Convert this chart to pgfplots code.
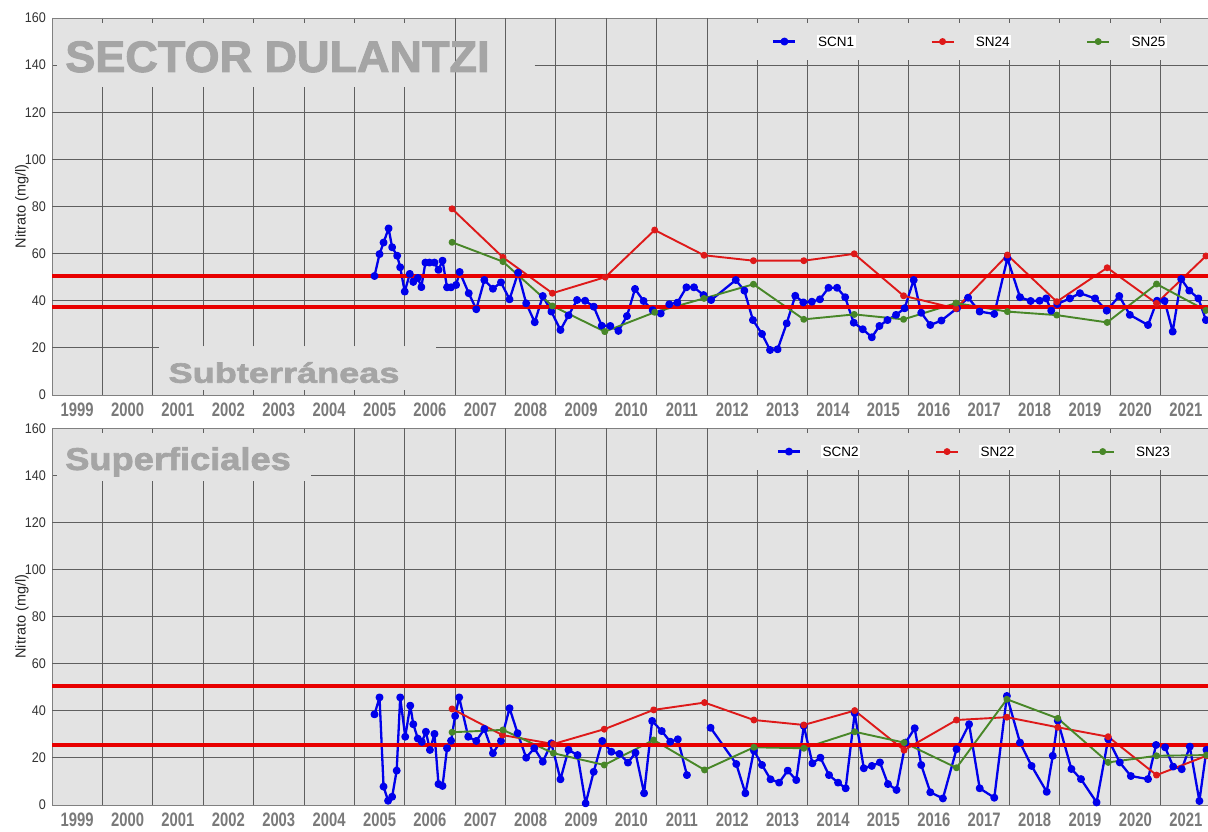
\documentclass[border=0pt]{standalone}
\usepackage{fontspec}
\setmainfont{Liberation Sans}
\newfontfamily\yearfont{Liberation Sans}[FakeStretch=0.76]
\newfontfamily\tickfont{Liberation Sans}[FakeStretch=0.9]
\newfontfamily\titlefont{Liberation Sans}[FakeStretch=1.023, BoldFeatures={FakeBold=2.2}]
\newfontfamily\subfont{Liberation Sans}[FakeStretch=1.29, BoldFeatures={FakeBold=2.2}]
\newfontfamily\supfont{Liberation Sans}[FakeStretch=1.15, BoldFeatures={FakeBold=2.2}]
\usepackage{pgfplots}
\pgfplotsset{compat=1.18}
\definecolor{bg}{RGB}{227,227,227}
\definecolor{gridc}{RGB}{95,95,95}
\definecolor{sblue}{RGB}{0,0,235}
\definecolor{sred}{RGB}{222,25,25}
\definecolor{sgreen}{RGB}{72,135,40}
\definecolor{refred}{RGB}{232,0,0}
\definecolor{titlegray}{RGB}{165,165,165}
\definecolor{yeargray}{RGB}{122,122,122}
\pgfplotsset{
  chart/.style={
    scale only axis, width=1159pt,
    xmin=1999, xmax=2022, ymin=0, ymax=160,
    axis background/.style={fill=bg},
    xtick={1999,2000,...,2022},
    x tick label as interval,
    xticklabels={1999,2000,2001,2002,2003,2004,2005,2006,2007,2008,2009,2010,2011,2012,2013,2014,2015,2016,2017,2018,2019,2020,2021},
    ytick={0,20,...,160},
    tick align=inside, major tick length=5pt,
    tick style={gridc, line width=0.9pt},
    axis line style={gray},
    xticklabel style={font=\yearfont\bfseries\fontsize{19.5pt}{19.5pt}\selectfont, text=yeargray, anchor=north, inner sep=0pt, yshift=-7.7pt},
    yticklabel style={font=\tickfont\fontsize{14pt}{14pt}\selectfont, text=black!80, anchor=east, inner sep=0pt, xshift=-6pt},
    /pgf/number format/assume math mode=true,
    every axis y label/.style={at={(axis description cs:-0.0259,0.5)}, rotate=90, anchor=center, font=\fontsize{14.5pt}{14.5pt}\selectfont, text=black!85},
    ylabel={Nitrato (mg/l)},
    legend columns=3,
    legend style={draw=none, fill=none, inner sep=0pt, font=\fontsize{13.5pt}{13.5pt}\selectfont, nodes={inner sep=0pt},
      /tikz/every odd column/.append style={column sep=20pt},
      /tikz/every even column/.append style={column sep=75pt}},
    legend image code/.code={\draw[mark repeat=2, mark phase=2, #1] plot coordinates {(0pt,0pt) (11pt,0pt) (22pt,0pt)};},
    blueS/.style={sblue, line width=2.3pt, mark=*, mark size=2.8pt, line join=round},
    redS/.style={sred, line width=1.9pt, mark=*, mark size=2.5pt, line join=round},
    greenS/.style={sgreen, line width=1.9pt, mark=*, mark size=2.5pt, line join=round},
    refS/.style={refred, line width=4.6pt, forget plot},
  }
}
\tikzset{gl/.style={gridc, line width=0.9pt}}
\setlength{\fboxsep}{1.5pt}
\begin{document}
\begin{tikzpicture}
% ---------------- top chart ----------------
\begin{axis}[chart, height=377pt, at={(52pt,436pt)}, anchor=south west,
  legend style={at={(axis cs:2013.29,150)}, anchor=west}]
% grid (interrupted behind the text boxes)
\pgfplotsinvokeforeach{2000,2001}{\draw[gl] (axis cs:#1,0) -- (axis cs:#1,130.7);}
\pgfplotsinvokeforeach{2002,2003,2004,2005,2006}{\draw[gl] (axis cs:#1,20.6) -- (axis cs:#1,130.7);}
\pgfplotsinvokeforeach{2007,2008,2009,2010,2011,2012}{\draw[gl] (axis cs:#1,0) -- (axis cs:#1,160);}
\pgfplotsinvokeforeach{2013,2014,2015,2016,2017,2018,2019,2020,2021}{\draw[gl] (axis cs:#1,0) -- (axis cs:#1,142.2);}
\draw[gl] (axis cs:1999,20) -- (axis cs:2001.13,20) (axis cs:2006.63,20) -- (axis cs:2022,20);
\pgfplotsinvokeforeach{40,60,80,100,120}{\draw[gl] (axis cs:1999,#1) -- (axis cs:2022,#1);}
\draw[gl] (axis cs:2008.58,140) -- (axis cs:2022,140);
\node[anchor=base west, inner sep=0pt, text=titlegray, font=\titlefont\bfseries\fontsize{44pt}{44pt}\selectfont] at (axis cs:1999.26,137.1) {SECTOR DULANTZI};
\node[anchor=base west, inner sep=0pt, text=titlegray, font=\subfont\bfseries\fontsize{28pt}{28pt}\selectfont] at (axis cs:2001.31,5.2) {Subterráneas};
\addplot[blueS] coordinates {
(2005.40,50.5) (2005.50,59.8) (2005.58,64.7) (2005.68,70.7) (2005.75,62.7) (2005.85,59.1) (2005.91,54.2)
(2006.00,43.9) (2006.10,51.4) (2006.17,48.0) (2006.26,49.7) (2006.33,45.8) (2006.41,56.2) (2006.49,56.2)
(2006.59,56.2) (2006.67,53.1) (2006.75,57.0) (2006.84,45.7) (2006.92,45.7) (2007.02,46.7) (2007.09,52.2)
(2007.27,43.2) (2007.42,36.4) (2007.58,48.8) (2007.75,45.1) (2007.91,47.8) (2008.08,40.6) (2008.25,51.9)
(2008.41,38.9) (2008.58,30.9) (2008.74,42.0) (2008.91,35.4) (2009.09,27.6) (2009.25,33.8) (2009.42,40.3)
(2009.58,40.0) (2009.75,37.5) (2009.91,29.4) (2010.08,29.3) (2010.24,27.2) (2010.41,33.5) (2010.57,45.0)
(2010.74,39.9) (2010.92,36.0) (2011.08,34.6) (2011.25,38.5) (2011.41,39.2) (2011.59,45.7) (2011.74,45.7)
(2011.93,42.4) (2012.08,40.3) (2012.57,48.8) (2012.74,44.3) (2012.91,31.8) (2013.09,25.9) (2013.25,19.1)
(2013.40,19.4) (2013.58,30.4) (2013.75,42.1) (2013.91,39.3) (2014.08,39.6) (2014.24,40.6) (2014.41,45.5)
(2014.58,45.5) (2014.74,41.5) (2014.91,30.7) (2015.09,27.9) (2015.27,24.5) (2015.42,29.3) (2015.58,31.8)
(2015.75,34.0) (2015.92,36.8) (2016.10,48.8) (2016.25,34.9) (2016.43,29.7) (2016.65,31.6) (2016.96,36.8)
(2017.18,41.3) (2017.41,35.4) (2017.70,34.4) (2017.96,58.0) (2018.21,41.5) (2018.42,39.9) (2018.60,40.0)
(2018.73,41.0) (2018.83,35.8) (2018.95,38.6) (2019.20,41.0) (2019.40,43.2) (2019.70,41.0) (2019.93,35.8)
(2020.18,42.0) (2020.39,34.0) (2020.75,29.7) (2020.93,40.0) (2021.08,39.9) (2021.24,26.9) (2021.41,49.2)
(2021.57,44.3) (2021.75,41.0) (2021.90,31.8)
};
\addlegendentry{\colorbox{white}{SCN1}}
\addplot[redS] coordinates {
(2006.94,79.0) (2007.95,58.4) (2008.93,43.2) (2009.98,50.0) (2010.96,70.0) (2011.94,59.3) (2012.92,57.0)
(2013.92,57.0) (2014.92,59.9) (2015.90,42.1) (2016.94,36.7) (2017.96,59.4) (2018.94,39.6) (2019.94,54.0)
(2020.92,38.9) (2021.90,59.0)
};
\addlegendentry{\colorbox{white}{SN24}}
\addplot[greenS] coordinates {
(2006.94,64.8) (2007.95,56.6) (2008.93,37.8) (2009.97,26.9) (2010.96,35.1) (2011.94,41.0) (2012.92,47.0)
(2013.92,32.1) (2014.92,34.2) (2015.90,32.1) (2016.94,39.0) (2017.96,35.4) (2018.94,33.9) (2019.94,30.8)
(2020.92,47.1) (2021.90,35.9)
};
\addlegendentry{\colorbox{white}{SN25}}
\addplot[refS] coordinates {(1999,50.5) (2022,50.5)};
\addplot[refS] coordinates {(1999,37.3) (2022,37.3)};
\end{axis}
% ---------------- bottom chart ----------------
\begin{axis}[chart, height=376.7pt, at={(52pt,26pt)}, anchor=south west, unbounded coords=jump,
  legend style={at={(axis cs:2013.38,150.1)}, anchor=west}]
\pgfplotsinvokeforeach{2000,2001,2002,2003,2004}{\draw[gl] (axis cs:#1,0) -- (axis cs:#1,137.6);}
\pgfplotsinvokeforeach{2005,2006,2007,2008,2009,2010,2011,2012}{\draw[gl] (axis cs:#1,0) -- (axis cs:#1,160);}
\pgfplotsinvokeforeach{2013,2014,2015,2016,2017,2018,2019,2020,2021}{\draw[gl] (axis cs:#1,0) -- (axis cs:#1,142.3);}
\pgfplotsinvokeforeach{20,40,60,80,100,120}{\draw[gl] (axis cs:1999,#1) -- (axis cs:2022,#1);}
\draw[gl] (axis cs:2004.14,140) -- (axis cs:2022,140);
\node[anchor=base west, inner sep=0pt, text=titlegray, font=\supfont\bfseries\fontsize{31.5pt}{31.5pt}\selectfont] at (axis cs:1999.26,142.3) {Superficiales};
\addplot[blueS] coordinates {
(2005.40,38.5) (2005.50,45.7) (2005.58,7.8) (2005.67,1.8) (2005.75,3.5) (2005.84,14.6) (2005.91,45.7)
(2006.01,29.0) (2006.11,42.2) (2006.17,34.3) (2006.26,28.2) (2006.34,26.8) (2006.42,31.1) (2006.50,23.4)
(2006.59,30.2) (2006.67,8.9) (2006.75,8.1) (2006.84,24.1) (2006.92,27.3) (2007.00,37.8) (2007.08,45.7)
(2007.26,29.0) (2007.42,27.2) (2007.58,32.3) (2007.75,22.0) (2007.91,27.2) (2008.08,41.1) (2008.24,30.5)
(2008.41,20.1) (2008.57,24.1) (2008.74,18.4) (2008.91,26.2) (2009.09,10.9) (2009.25,23.4) (2009.43,21.2)
(2009.59,0.7) (2009.75,14.1) (2009.92,27.2) (2010.10,22.6) (2010.26,21.7) (2010.43,18.0) (2010.58,22.2)
(2010.75,5.0) (2010.91,35.7) (2011.10,31.4) (2011.27,26.9) (2011.42,27.9) (2011.60,12.7) (2011.80,nan)
(2012.07,32.8) (2012.58,17.4) (2012.76,5.0) (2012.93,23.1) (2013.09,17.0) (2013.26,10.9) (2013.43,9.5)
(2013.60,14.6) (2013.77,10.6) (2013.92,33.6) (2014.09,17.7) (2014.25,20.1) (2014.42,12.7) (2014.60,9.5)
(2014.75,7.1) (2014.93,39.0) (2015.11,15.6) (2015.27,16.6) (2015.43,18.1) (2015.59,8.9) (2015.76,6.4)
(2015.94,26.5) (2016.12,32.6) (2016.25,17.0) (2016.43,5.4) (2016.68,2.8) (2016.95,23.7) (2017.20,34.3)
(2017.41,7.1) (2017.70,3.1) (2017.95,46.3) (2018.21,26.5) (2018.44,16.6) (2018.74,5.6) (2018.86,20.9)
(2018.96,35.8) (2019.23,15.3) (2019.42,11.0) (2019.73,1.1) (2019.96,28.0) (2020.19,18.1) (2020.41,12.3)
(2020.75,11.0) (2020.91,25.5) (2021.09,24.5) (2021.25,16.3) (2021.42,15.2) (2021.58,24.8) (2021.77,1.7)
(2021.91,23.4)
};
\addlegendentry{\colorbox{white}{SCN2}}
\addplot[redS] coordinates {
(2006.94,40.8) (2007.94,29.7) (2008.95,25.9) (2009.96,32.2) (2010.94,40.4) (2011.95,43.5) (2012.93,36.1)
(2013.92,34.0) (2014.93,40.1) (2015.91,23.3) (2016.95,36.1) (2017.95,37.3) (2018.96,33.0) (2019.96,29.0)
(2020.92,12.7) (2021.91,20.9)
};
\addlegendentry{\colorbox{white}{SN22}}
\addplot[greenS] coordinates {
(2006.94,30.9) (2007.95,31.9) (2008.95,22.0) (2009.96,17.0) (2010.94,27.6) (2011.95,14.9) (2012.93,24.5)
(2013.92,24.1) (2014.93,31.1) (2015.91,26.5) (2016.95,15.8) (2017.95,44.9) (2018.96,36.8) (2019.96,18.1)
(2020.92,20.9) (2021.91,21.2)
};
\addlegendentry{\colorbox{white}{SN23}}
\addplot[refS] coordinates {(1999,50.5) (2022,50.5)};
\addplot[refS] coordinates {(1999,25.5) (2022,25.5)};
\end{axis}
\pgfresetboundingbox
\path[use as bounding box] (0,0) rectangle (1208pt,831pt);
\end{tikzpicture}
\end{document}
